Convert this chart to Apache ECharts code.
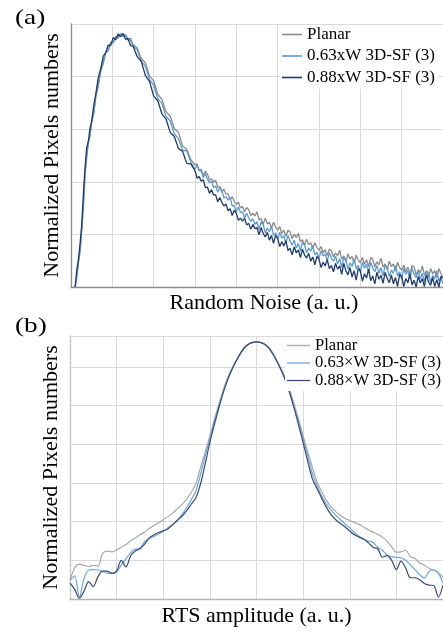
<!DOCTYPE html>
<html><head><meta charset="utf-8">
<script src="https://cdn.jsdelivr.net/npm/echarts@6/dist/echarts.min.js"></script>
<style>html,body{margin:0;padding:0;background:#fff}#c{width:443px;height:632px}</style>
</head><body><div id="c"></div>
<script>
// ---- Panel (a): Random Noise distribution ----
const aX = [0.10,0.14,0.18,0.22,0.26,0.30,0.34,0.38,0.42,0.46,0.50,0.55,0.60,0.66,0.72,0.78,0.84,0.90,0.96,1.02,1.08,1.14,1.20,1.26,1.32,1.38,1.44,1.50,
 1.6,1.7,1.8,1.9,2.0,2.1,2.2,2.3,2.4,2.5,2.6,2.7,2.8,2.9,
 3.00,3.05,3.10,3.15,3.20,3.25,3.30,3.35,3.40,3.45,3.50,3.55,3.60,3.65,3.70,3.75,3.80,3.85,3.90,3.95,
 4.00,4.05,4.10,4.15,4.20,4.25,4.30,4.35,4.40,4.45,4.50,4.55,4.60,4.65,4.70,4.75,4.80,4.85,4.90,4.95,
 5.00,5.05,5.10,5.15,5.20,5.25,5.30,5.35,5.40,5.45,5.50,5.55,5.60,5.65,5.70,5.75,5.80,5.85,5.90,5.95,
 6.00,6.05,6.10,6.15,6.20,6.25,6.30,6.35,6.40,6.45,6.50,6.55,6.60,6.65,6.70,6.75,6.80,6.85,6.90,6.95,
 7.00,7.05,7.10,7.15,7.20,7.25,7.30,7.35,7.40,7.45,7.50,7.55,7.60,7.65,7.70,7.75,7.80,7.85,7.90,7.95,
 8.00,8.05,8.10,8.15,8.20,8.25,8.30,8.35,8.40,8.45,8.50,8.55,8.60,8.65,8.70,8.75,8.80,8.85,8.90,8.95,
 9.00];
const aPlanar = [0.00,0.18,0.47,0.67,1.08,1.52,2.13,2.47,2.75,2.87,3.13,3.29,3.61,3.82,4.11,4.25,4.45,4.49,4.63,4.64,4.75,4.73,4.81,4.76,4.80,4.71,4.73,4.61,
 4.55,4.34,4.26,4.01,3.92,3.66,3.57,3.33,3.25,3.01,2.94,2.68,2.62,2.42,
 2.32,2.34,2.22,2.24,2.12,2.20,2.15,2.03,2.06,1.99,2.03,1.90,1.91,1.80,1.86,1.77,1.77,1.66,1.72,1.63,
 1.57,1.61,1.50,1.53,1.43,1.51,1.47,1.36,1.40,1.35,1.43,1.27,1.31,1.19,1.31,1.20,1.23,1.12,1.23,1.14,
 1.08,1.15,1.02,1.08,0.96,1.08,1.05,0.92,1.00,0.94,1.02,0.86,0.90,0.79,0.91,0.81,0.84,0.73,0.84,0.75,
 0.70,0.77,0.65,0.71,0.60,0.72,0.69,0.57,0.65,0.59,0.70,0.53,0.59,0.47,0.63,0.53,0.58,0.45,0.61,0.51,
 0.46,0.56,0.43,0.52,0.39,0.56,0.53,0.38,0.48,0.42,0.55,0.38,0.44,0.32,0.49,0.39,0.44,0.31,0.47,0.37,
 0.32,0.42,0.29,0.38,0.24,0.41,0.38,0.23,0.33,0.27,0.40,0.23,0.30,0.18,0.35,0.25,0.31,0.18,0.35,0.25,
 0.20];
const aW063 = [0.00,0.20,0.50,0.70,1.13,1.57,2.18,2.49,2.77,2.89,3.15,3.32,3.65,3.85,4.15,4.27,4.47,4.51,4.65,4.65,4.76,4.74,4.82,4.76,4.79,4.69,4.70,4.58,
 4.51,4.29,4.20,3.94,3.84,3.58,3.49,3.24,3.16,2.91,2.82,2.60,2.59,2.37,
 2.24,2.32,2.21,2.21,2.08,2.16,2.05,1.98,2.01,1.89,1.92,1.80,1.89,1.83,1.69,1.72,1.65,1.70,1.54,1.55,
 1.43,1.52,1.42,1.43,1.31,1.40,1.31,1.25,1.30,1.19,1.24,1.09,1.24,1.19,1.03,1.12,1.05,1.16,0.98,1.03,
 0.90,1.04,0.93,0.97,0.83,0.98,0.87,0.80,0.89,0.74,0.83,0.68,0.85,0.80,0.65,0.74,0.68,0.79,0.61,0.66,
 0.54,0.69,0.59,0.63,0.50,0.65,0.55,0.49,0.59,0.44,0.54,0.37,0.58,0.52,0.34,0.46,0.39,0.54,0.34,0.41,
 0.28,0.47,0.36,0.43,0.27,0.47,0.36,0.29,0.41,0.26,0.37,0.21,0.42,0.37,0.20,0.32,0.26,0.41,0.21,0.29,
 0.15,0.35,0.24,0.31,0.15,0.36,0.24,0.18,0.30,0.15,0.26,0.10,0.31,0.27,0.09,0.22,0.15,0.31,0.11,0.19,
 0.06];
const aW088 = [0.00,0.32,0.52,0.83,1.18,1.78,2.27,2.65,2.77,3.02,3.15,3.45,3.67,3.98,4.15,4.39,4.45,4.60,4.59,4.74,4.70,4.81,4.76,4.82,4.71,4.72,4.59,4.58,
 4.38,4.29,4.02,3.91,3.63,3.54,3.29,3.19,2.94,2.86,2.63,2.58,2.35,2.34,
 2.21,2.07,2.10,2.01,2.04,1.89,1.90,1.78,1.85,1.75,1.75,1.62,1.70,1.61,1.54,1.58,1.45,1.49,1.36,1.46,
 1.40,1.27,1.31,1.25,1.31,1.18,1.21,1.10,1.19,1.11,1.13,0.99,1.13,1.02,0.95,1.04,0.89,0.98,0.83,0.98,
 0.93,0.77,0.86,0.78,0.88,0.69,0.74,0.61,0.76,0.65,0.70,0.56,0.72,0.61,0.55,0.64,0.49,0.57,0.42,0.58,
 0.53,0.37,0.47,0.40,0.52,0.35,0.41,0.29,0.45,0.34,0.40,0.24,0.45,0.31,0.23,0.37,0.19,0.31,0.13,0.35,
 0.31,0.11,0.25,0.17,0.34,0.12,0.21,0.06,0.28,0.15,0.22,0.07,0.28,0.16,0.08,0.23,0.06,0.18,0.01,0.24,
 0.20,0.01,0.16,0.08,0.25,0.04,0.13,0.00,0.20,0.08,0.16,0.01,0.23,0.10,0.03,0.18,0.01,0.14,0.00,0.20,
 0.17];
const aNames = ['Planar','0.63xW 3D-SF (3)','0.88xW 3D-SF (3)'];

// ---- Panel (b): RTS amplitude distribution ----
const bX = [-4.0,-3.9,-3.8,-3.7,-3.6,-3.5,-3.4,-3.3,-3.2,-3.1,
 -3.0,-2.9,-2.8,-2.7,-2.6,-2.5,-2.4,-2.3,-2.2,-2.1,
 -2.0,-1.9,-1.8,-1.7,-1.6,-1.5,-1.4,-1.3,-1.2,-1.1,
 -1.0,-0.9,-0.8,-0.7,-0.6,-0.5,-0.4,-0.3,-0.2,-0.1,
 0,
 0.1,0.2,0.3,0.4,0.5,0.6,0.7,0.8,0.9,1.0,
 1.1,1.2,1.3,1.4,1.5,1.6,1.7,1.8,1.9,2.0,
 2.1,2.2,2.3,2.4,2.5,2.6,2.7,2.8,2.9,3.0,
 3.1,3.2,3.3,3.4,3.5,3.6,3.7,3.8,3.9,4.0];
const bPlanar = [0.49,0.80,0.90,0.87,0.84,0.87,0.85,1.18,1.24,1.22,
 1.27,1.34,1.41,1.50,1.58,1.66,1.73,1.82,1.90,1.97,
 2.05,2.13,2.22,2.33,2.44,2.58,2.76,2.98,3.40,3.80,
 4.22,4.66,5.06,5.45,5.77,6.02,6.25,6.45,6.57,6.63,
 6.65,
 6.63,6.57,6.45,6.25,6.02,5.77,5.45,5.06,4.66,4.22,
 3.80,3.40,3.02,2.78,2.55,2.38,2.26,2.16,2.08,2.03,
 1.98,1.93,1.86,1.79,1.73,1.67,1.60,1.49,1.35,1.21,
 1.22,1.26,1.09,1.05,0.93,0.88,0.79,0.75,0.67,0.57];
const bW063 = [0.49,0.60,0.05,0.52,0.75,0.76,0.75,0.71,0.67,0.66,
 0.70,0.88,1.04,1.20,1.29,1.31,1.48,1.56,1.62,1.68,
 1.75,1.84,1.93,2.03,2.18,2.36,2.57,2.80,3.22,3.70,
 4.15,4.60,5.02,5.42,5.75,6.01,6.24,6.44,6.57,6.63,
 6.65,
 6.63,6.57,6.44,6.24,6.00,5.74,5.41,5.01,4.59,4.14,
 3.69,3.24,2.92,2.66,2.45,2.30,2.17,2.05,1.94,1.84,
 1.72,1.62,1.54,1.50,1.46,1.34,1.26,1.14,1.09,1.08,
 1.06,1.00,0.88,0.76,0.63,0.54,0.71,0.75,0.67,0.40];
const bW088 = [0.41,0.25,0.02,0.20,0.45,0.32,0.58,0.72,0.72,0.66,
 0.72,1.00,0.83,1.12,1.24,1.30,1.42,1.58,1.66,1.72,
 1.76,1.81,1.92,2.03,2.14,2.28,2.45,2.62,2.98,3.50,
 4.05,4.52,4.97,5.38,5.72,6.00,6.23,6.43,6.56,6.63,
 6.65,
 6.63,6.56,6.43,6.23,5.99,5.71,5.37,4.96,4.51,4.04,
 3.55,3.10,2.85,2.60,2.37,2.18,2.05,1.95,1.86,1.76,
 1.66,1.60,1.55,1.45,1.34,1.30,1.08,1.12,1.00,0.76,
 0.98,0.80,0.55,0.55,0.50,0.40,0.36,0.35,0.05,0.36];
const bNames = ['Planar','0.63×W 3D-SF (3)','0.88×W 3D-SF (3)'];

const pair = (xs, ys) => xs.map((x, i) => [x, ys[i]]);
const FONT = 'Liberation Serif';
const colA = ['#8a8a8a', '#5b9bd5', '#1f3a6c'];
const colB = ['#a8a8a8', '#6aa7e0', '#3a4c72'];

function xAxisCfg(gi, min, max, name, gap, pad, axisCol) {
  return {
    type: 'value', gridIndex: gi, min: min, max: max, interval: 1,
    name: name, nameLocation: 'middle', nameGap: gap,
    nameTextStyle: { fontFamily: FONT, fontSize: 22, color: '#000', padding: pad },
    axisLine: { show: true, onZero: false, lineStyle: { color: axisCol, width: 1.3 } },
    axisTick: { show: false }, axisLabel: { show: false },
    splitLine: { show: true, lineStyle: { color: '#dadada', width: 1 } }
  };
}
function yAxisCfg(gi, min, max, gap, axisCol) {
  return {
    type: 'value', gridIndex: gi, min: min, max: max, interval: 1,
    name: 'Normalized Pixels numbers', nameLocation: 'middle', nameGap: gap, nameRotate: 90,
    nameTextStyle: { fontFamily: FONT, fontSize: 22, color: '#000' },
    axisLine: { show: true, onZero: false, lineStyle: { color: axisCol, width: 1.3 } },
    axisTick: { show: false }, axisLabel: { show: false },
    splitLine: { show: true, lineStyle: { color: '#dadada', width: 1 } }
  };
}

const chart = echarts.init(document.getElementById('c'), null, { renderer: 'canvas' });
chart.setOption({
  animation: false,
  backgroundColor: '#fff',
  grid: [
    { left: 71, top: 24, width: 374, height: 263 },
    { left: 70, top: 336, width: 374, height: 263 }
  ],
  xAxis: [
    xAxisCfg(0, 0, 9, 'Random Noise (a. u.)', 5, [0, 0, 0, 14], '#8c8c8c'),
    xAxisCfg(1, -4, 4, 'RTS amplitude (a. u.)', 6, 0, '#b5b5b5')
  ],
  yAxis: [
    yAxisCfg(0, 0, 5, 8, '#8c8c8c'),
    yAxisCfg(1, 0, 6.8, 8, '#c4c4c4')
  ],
  legend: [
    {
      orient: 'vertical', left: 280, top: 25, padding: [0, 4, 2, 2],
      backgroundColor: '#fff', icon: 'rect', itemWidth: 20, itemHeight: 1.6, itemGap: 2.5,
      textStyle: { fontFamily: FONT, fontSize: 17, color: '#000', lineHeight: 19 },
      data: aNames.map((n, i) => ({ name: n, itemStyle: { color: colA[i] } }))
    },
    {
      orient: 'vertical', left: 285, top: 337, padding: [0, 2, 2, 2],
      backgroundColor: '#fff', icon: 'rect', itemWidth: 23, itemHeight: 1.3, itemGap: 0.5,
      textStyle: { fontFamily: FONT, fontSize: 16.6, color: '#000', lineHeight: 17 },
      data: bNames.map((n, i) => ({ name: n, itemStyle: { color: colB[i] } }))
    }
  ],
  graphic: [
    { type: 'text', left: 15, top: 8, scaleX: 1.3,
      style: { text: '(a)', font: '21px "Liberation Serif"', fill: '#000' } },
    { type: 'text', left: 15, top: 316, scaleX: 1.3,
      style: { text: '(b)', font: '21px "Liberation Serif"', fill: '#000' } }
  ],
  series: [
    { name: aNames[0], type: 'line', xAxisIndex: 0, yAxisIndex: 0, symbol: 'none', data: pair(aX, aPlanar), lineStyle: { color: colA[0], width: 1.3 }, itemStyle: { color: colA[0] } },
    { name: aNames[1], type: 'line', xAxisIndex: 0, yAxisIndex: 0, symbol: 'none', data: pair(aX, aW063), lineStyle: { color: colA[1], width: 1.3 }, itemStyle: { color: colA[1] } },
    { name: aNames[2], type: 'line', xAxisIndex: 0, yAxisIndex: 0, symbol: 'none', data: pair(aX, aW088), lineStyle: { color: colA[2], width: 1.3 }, itemStyle: { color: colA[2] } },
    { name: bNames[0], type: 'line', xAxisIndex: 1, yAxisIndex: 1, symbol: 'none', smooth: 0.3, data: pair(bX, bPlanar), lineStyle: { color: colB[0], width: 1.2 }, itemStyle: { color: colB[0] } },
    { name: bNames[1], type: 'line', xAxisIndex: 1, yAxisIndex: 1, symbol: 'none', smooth: 0.3, data: pair(bX, bW063), lineStyle: { color: colB[1], width: 1.2 }, itemStyle: { color: colB[1] } },
    { name: bNames[2], type: 'line', xAxisIndex: 1, yAxisIndex: 1, symbol: 'none', smooth: 0.3, data: pair(bX, bW088), lineStyle: { color: colB[2], width: 1.2 }, itemStyle: { color: colB[2] } }
  ]
});
</script></body></html>
